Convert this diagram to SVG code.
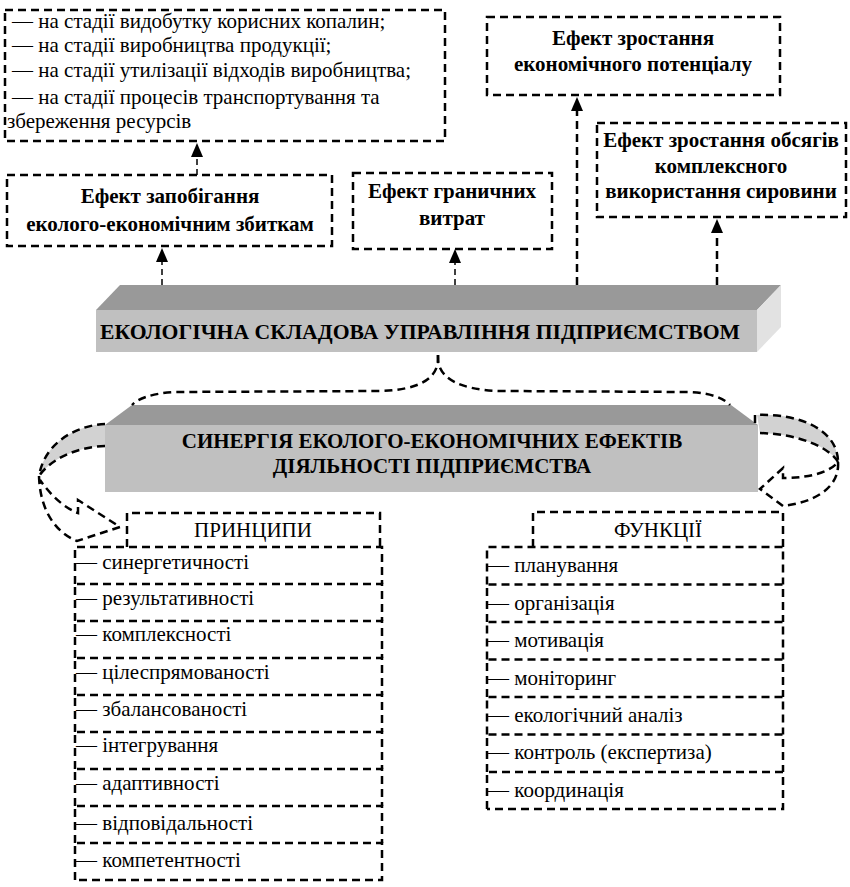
<svg xmlns="http://www.w3.org/2000/svg" width="850" height="887" viewBox="0 0 850 887">
  <style>
    .box { fill: none; stroke: #000; stroke-width: 2.5; stroke-dasharray: 8 5; }
    .thin { fill: none; stroke: #000; stroke-width: 1.5; stroke-dasharray: 6 4; }
    .thick { fill: none; stroke: #000; stroke-width: 2.5; stroke-dasharray: 8 5; }
    .t { font-family: "Liberation Serif", "Times New Roman", serif; font-size: 21px; fill: #000; }
    .b { font-weight: bold; }
    .c { text-anchor: middle; }
    .top { fill: #999999; }
    .front { fill: #c0c0c0; }
    .side { fill: #e2e2e2; }
    .ribbon { fill: #d2d2d2; }
  </style>
  <defs>
    <marker id="head" markerUnits="userSpaceOnUse" markerWidth="14" markerHeight="14" refX="0" refY="6" orient="auto" overflow="visible">
      <path d="M0,0 L14,6 L0,12 Z" fill="#000"/>
    </marker>
  </defs>

  <!-- stages list -->
  <g id="stages">
    <rect class="box" x="5" y="10" width="440" height="131"/>
    <text class="t" x="12" y="28">— на стадії видобутку корисних копалин;</text>
    <text class="t" x="12" y="52">— на стадії виробництва продукції;</text>
    <text class="t" x="12" y="77">— на стадії утилізації відходів виробництва;</text>
    <text class="t" x="12" y="104">— на стадії процесів транспортування та</text>
    <text class="t" x="7" y="128">збереження ресурсів</text>
  </g>

  <g id="effect-prevention">
    <rect class="box" x="7" y="175" width="325" height="71"/>
    <text class="t b c" x="170" y="203">Ефект запобігання</text>
    <text class="t b c" x="170" y="231">еколого-економічним збиткам</text>
  </g>

  <g id="effect-marginal">
    <rect class="box" x="353" y="173" width="199" height="76"/>
    <text class="t b c" x="452" y="198">Ефект граничних</text>
    <text class="t b c" x="452" y="225">витрат</text>
  </g>

  <g id="effect-potential">
    <rect class="box" x="487" y="17" width="293" height="78"/>
    <text class="t b c" x="633" y="45">Ефект зростання</text>
    <text class="t b c" x="633" y="71">економічного потенціалу</text>
  </g>

  <g id="effect-raw">
    <rect class="box" x="597" y="123" width="249" height="94"/>
    <text class="t b c" x="721" y="147" font-size="20.5">Ефект зростання обсягів</text>
    <text class="t b c" x="721" y="173" font-size="20.5">комплексного</text>
    <text class="t b c" x="721" y="198" font-size="20.5">використання сировини</text>
  </g>

  <!-- 3D bar -->
  <g id="eco-component">
    <polygon class="top" points="96,310 120,285 781,285 757,310"/>
    <polygon class="side" points="757,310 781,285 781,327 757,352"/>
    <rect class="front" x="96" y="310" width="661" height="42"/>
    <text class="t b c" x="420" y="339" font-size="22" textLength="640" lengthAdjust="spacingAndGlyphs">ЕКОЛОГІЧНА СКЛАДОВА УПРАВЛІННЯ ПІДПРИЄМСТВОМ</text>
  </g>

  <!-- synergy block -->
  <g id="synergy">
    <polygon class="top" points="105,425 132,405 731,405 758,425"/>
    <rect class="front" x="105" y="425" width="653" height="67"/>
    <text class="t b c" x="432" y="448" font-size="22">СИНЕРГІЯ ЕКОЛОГО-ЕКОНОМІЧНИХ ЕФЕКТІВ</text>
    <text class="t b c" x="432" y="473" font-size="22">ДІЯЛЬНОСТІ ПІДПРИЄМСТВА</text>
  </g>

  <g id="principles-head">
    <path class="box" d="M127,547 V513 H380 V547"/>
    <text class="t c" x="253" y="537">ПРИНЦИПИ</text>
  </g>

  <g id="principles">
    <path class="box" d="M75,584 V547 H382 V584"/>
    <path class="box" d="M75,621 V584 H382 V621"/>
    <path class="box" d="M75,658 V621 H382 V658"/>
    <path class="box" d="M75,695 V658 H382 V695"/>
    <path class="box" d="M75,732 V695 H382 V732"/>
    <path class="box" d="M75,769 V732 H382 V769"/>
    <path class="box" d="M75,806 V769 H382 V806"/>
    <path class="box" d="M75,843 V806 H382 V843"/>
    <path class="box" d="M75,880 V843 H382 V880 H75"/>
    <text class="t" x="76" y="569">— синергетичності</text>
    <text class="t" x="76" y="605">— результативності</text>
    <text class="t" x="76" y="641">— комплексності</text>
    <text class="t" x="76" y="679">— цілеспрямованості</text>
    <text class="t" x="76" y="716">— збалансованості</text>
    <text class="t" x="76" y="752">— інтегрування</text>
    <text class="t" x="76" y="790">— адаптивності</text>
    <text class="t" x="76" y="830">— відповідальності</text>
    <text class="t" x="76" y="867">— компетентності</text>
  </g>

  <g id="functions-head">
    <path class="box" d="M533,547 V512 H783 V547"/>
    <text class="t c" x="658" y="537">ФУНКЦІЇ</text>
  </g>

  <g id="functions">
    <path class="box" d="M487,584.5 V547 H783 V584.5"/>
    <path class="box" d="M487,622 V584.5 H783 V622"/>
    <path class="box" d="M487,659.5 V622 H783 V659.5"/>
    <path class="box" d="M487,697 V659.5 H783 V697"/>
    <path class="box" d="M487,734.5 V697 H783 V734.5"/>
    <path class="box" d="M487,772 V734.5 H783 V772"/>
    <path class="box" d="M487,809 V772 H783 V809 H487"/>
    <text class="t" x="488" y="572">— планування</text>
    <text class="t" x="488" y="610">— організація</text>
    <text class="t" x="488" y="647">— мотивація</text>
    <text class="t" x="488" y="685">— моніторинг</text>
    <text class="t" x="488" y="722">— екологічний аналіз</text>
    <text class="t" x="488" y="759">— контроль (експертиза)</text>
    <text class="t" x="488" y="797">— координація</text>
  </g>

  <!-- connectors -->
  <g id="connectors">
    <line class="thin" x1="197" y1="175" x2="197" y2="157" marker-end="url(#head)"/>
    <line class="thin" x1="162" y1="285" x2="162" y2="262" marker-end="url(#head)"/>
    <line class="thin" x1="455" y1="285" x2="455" y2="263" marker-end="url(#head)"/>
    <line class="thick" x1="577" y1="285" x2="577" y2="111" marker-end="url(#head)"/>
    <line class="thick" x1="717" y1="285" x2="717" y2="233" marker-end="url(#head)"/>

    <!-- brace from the bar to the synergy block -->
    <path class="thick" d="M438,355 C440,378 420,390 380,391 L175,392 C155,393 138,398 132,405"/>
    <path class="thick" d="M438,355 C436,378 460,390 500,391 L690,392 C710,393 724,398 730,405"/>

    <!-- left curved arrow -->
    <path class="ribbon" d="M105,424 C80,425 45,440 39,476 C50,460 75,447 105,446 Z"/>
    <path class="thick" d="M105,424 C80,425 45,440 39,476"/>
    <path class="thick" d="M105,446 C75,447 50,460 39,476"/>
    <path class="thick" d="M39,476 C40,510 55,532 77,541 L120,527 L78,500 L78,513 C65,508 52,497 40,480"/>

    <!-- right curved arrow -->
    <path class="ribbon" d="M757,415 C800,413 838,430 838,462 C830,448 800,434 760,433 Z"/>
    <path class="thick" d="M755,423 V415 C800,413 838,430 838,462"/>
    <path class="thick" d="M760,433 C800,434 830,448 838,462"/>
    <path class="thick" d="M838,462 C840,490 810,503 783,506 L760,489 L783,468 L783,478 C810,478 830,472 838,462"/>
  </g>
</svg>
